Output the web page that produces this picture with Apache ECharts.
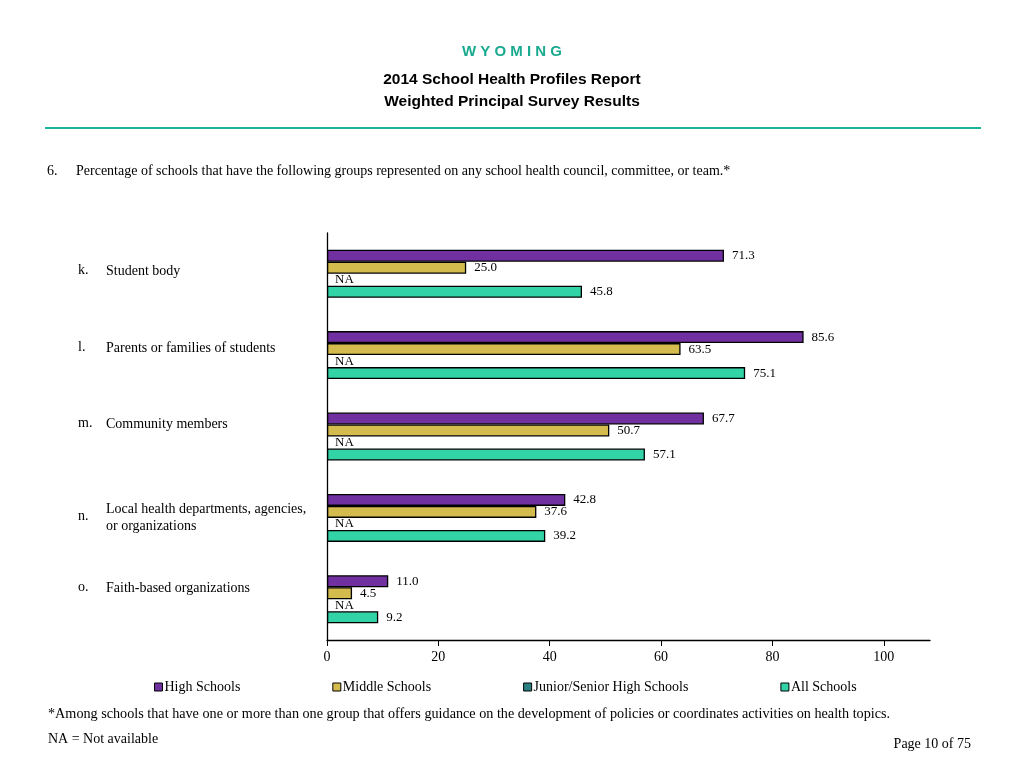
<!DOCTYPE html>
<html>
<head>
<meta charset="utf-8">
<script src="https://cdn.jsdelivr.net/npm/echarts@6/dist/echarts.min.js"></script>
<style>
html,body{margin:0;padding:0;background:#fff;}
#chart{width:1024px;height:768px;}
</style>
</head>
<body>
<div id="chart"></div>
<script>
// ---- data ----
var letters = ['k.', 'l.', 'm.', 'n.', 'o.'];
var categories = [
  'Student body',
  'Parents or families of students',
  'Community members',
  'Local health departments, agencies,\nor organizations',
  'Faith-based organizations'
];
var seriesNames = ['High Schools', 'Middle Schools', 'Junior/Senior High Schools', 'All Schools'];
var highSchools = [71.3, 85.6, 67.7, 42.8, 11.0];
var middleSchools = [25.0, 63.5, 50.7, 37.6, 4.5];
var juniorSenior = [null, null, null, null, null]; // NA
var allSchools = [45.8, 75.1, 57.1, 39.2, 9.2];
var xTicks = [0, 20, 40, 60, 80, 100];

var colors = ['#7030A0', '#D4BB4E', '#2A8080', '#33D3A8'];
var serif = '"Liberation Serif", "Times New Roman", serif';
var sans = '"Liberation Sans", Arial, sans-serif';

function makeSeries(name, vals, color) {
  var isNA = vals.every(function (v) { return v === null; });
  return {
    name: name,
    type: 'bar',
    barWidth: 12,
    barGap: '0%',
    data: vals.map(function (v) {
      return v === null ? { value: 0, na: true } : v;
    }),
    itemStyle: { color: color, borderColor: '#000', borderWidth: isNA ? 0 : 1.3 },
    label: {
      show: true,
      position: 'right',
      distance: 8,
      fontFamily: serif,
      fontSize: 13,
      color: '#000',
      formatter: function (p) {
        return (p.data && p.data.na) ? 'NA' : Number(p.value).toFixed(1);
      }
    }
  };
}

var labelY = [271, 348, 424, 517, 588];
var graphics = [];
letters.forEach(function (l, i) {
  graphics.push({
    type: 'text', left: 78, top: labelY[i] - 8,
    style: { text: l, font: '14px ' + serif, fill: '#000' }
  });
  graphics.push({
    type: 'text', left: 106, top: labelY[i] - 8 - (categories[i].indexOf('\n') >= 0 ? 8 : 0),
    style: { text: categories[i], font: '14px ' + serif, fill: '#000', lineHeight: 17 }
  });
});
// header line
graphics.push({
  type: 'line', shape: { x1: 45, y1: 128, x2: 981, y2: 128 },
  style: { stroke: '#1DB39A', lineWidth: 2 }
});

function t(text, pos, style) {
  var o = { text: text, padding: 0, textStyle: style };
  for (var k in pos) o[k] = pos[k];
  return o;
}
var bodyStyle = { fontFamily: serif, fontSize: 14, fontWeight: 'normal', color: '#000' };
var footStyle = { fontFamily: serif, fontSize: 14.2, fontWeight: 'normal', color: '#000' };
var headStyle = { fontFamily: sans, fontSize: 15.5, fontWeight: 'bold', color: '#000' };

var chart = echarts.init(document.getElementById('chart'));
chart.setOption({
  backgroundColor: '#fff',
  animation: false,
  title: [
    t('W Y O M I N G', { left: 'center', top: 44 },
      { fontFamily: sans, fontSize: 15, fontWeight: 'bold', color: '#1AAA8F' }),
    t('2014 School Health Profiles Report', { left: 'center', top: 72 }, headStyle),
    t('Weighted Principal Survey Results', { left: 'center', top: 94 }, headStyle),
    t('6.', { left: 47, top: 164 }, bodyStyle),
    t('Percentage of schools that have the following groups represented on any school health council, committee, or team.*', { left: 76, top: 164 }, bodyStyle),
    t('*Among schools that have one or more than one group that offers guidance on the development of policies or coordinates activities on health topics.', { left: 48, top: 707 }, footStyle),
    t('NA = Not available', { left: 48, top: 732 }, bodyStyle),
    t('Page 10 of 75', { right: 53, top: 737 }, bodyStyle)
  ],
  legend: {
    top: 675, left: 149,
    itemGap: 92,
    itemWidth: 8, itemHeight: 8,
    icon: 'rect',
    data: seriesNames,
    itemStyle: { borderColor: '#000', borderWidth: 1 },
    textStyle: { fontFamily: serif, fontSize: 14, color: '#000', padding: [0, 0, 0, -3] }
  },
  grid: { left: 327, right: 94, top: 233, bottom: 128, containLabel: false },
  xAxis: {
    type: 'value', min: 0, max: 108.3, interval: 20,
    splitLine: { show: false },
    axisLine: { show: true, lineStyle: { color: '#000', width: 1.3 } },
    axisTick: { show: true, length: 6, lineStyle: { color: '#000' }, customValues: xTicks },
    axisLabel: { fontFamily: serif, fontSize: 14, color: '#000', margin: 10, customValues: xTicks }
  },
  yAxis: {
    type: 'category', inverse: true, data: categories,
    axisLine: { show: true, onZero: false, lineStyle: { color: '#000', width: 1.3 } },
    axisTick: { show: false },
    axisLabel: { show: false }
  },
  graphic: graphics,
  series: [
    makeSeries(seriesNames[0], highSchools, colors[0]),
    makeSeries(seriesNames[1], middleSchools, colors[1]),
    makeSeries(seriesNames[2], juniorSenior, colors[2]),
    makeSeries(seriesNames[3], allSchools, colors[3])
  ]
});
</script>
</body>
</html>
